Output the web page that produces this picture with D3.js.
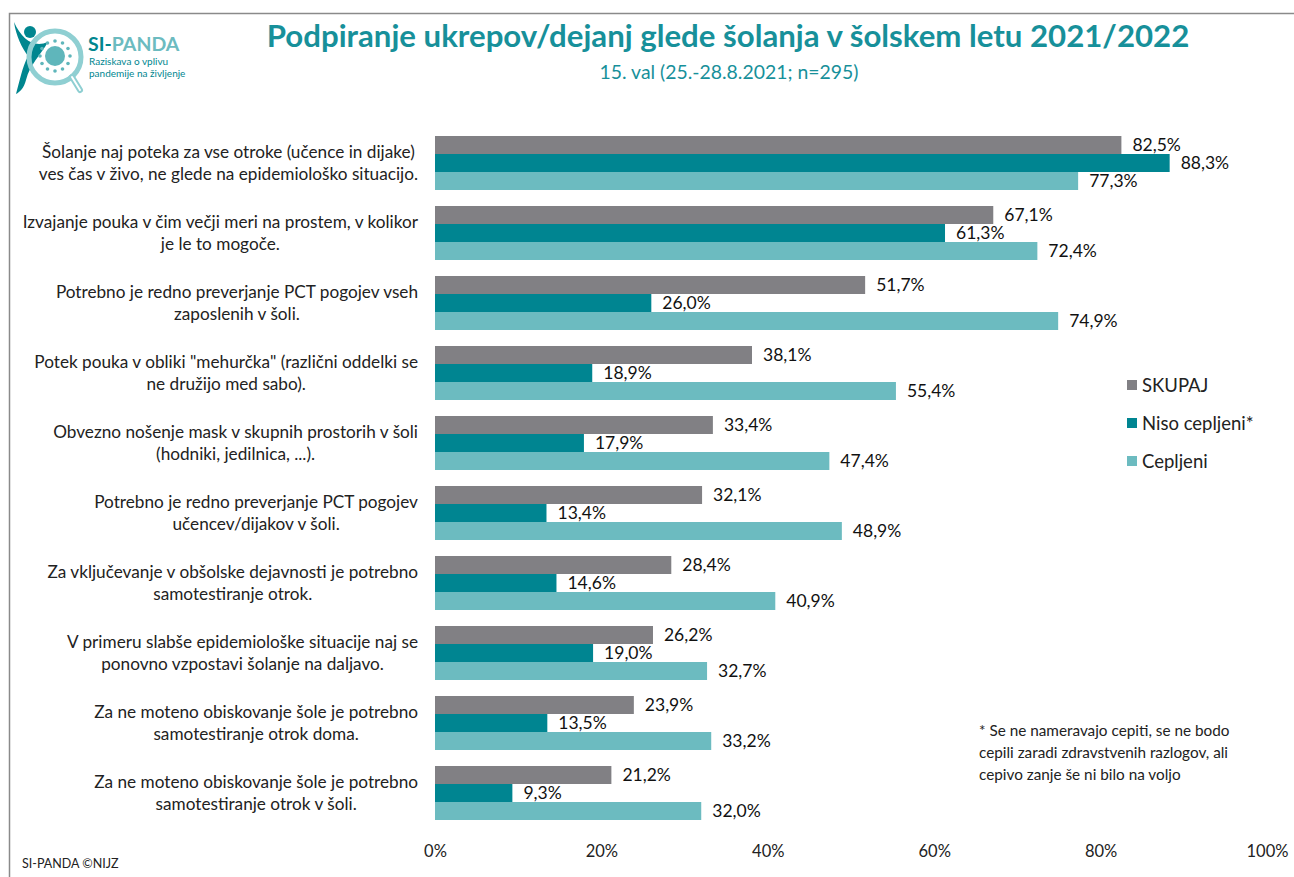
<!DOCTYPE html>
<html><head><meta charset="utf-8">
<script src="https://cdn.jsdelivr.net/npm/d3@7"></script>
<style>body{margin:0;background:#fff}svg{display:block;font-family:Lato,"Noto Sans",sans-serif}</style>
</head><body>
<svg id="c" width="1294" height="877"></svg>
<script>
const categories = [
  ["Šolanje naj poteka za vse otroke (učence in dijake)", "ves čas v živo, ne glede na epidemiološko situacijo."],
  ["Izvajanje pouka v čim večji meri na prostem, v kolikor", "je le to mogoče."],
  ["Potrebno je redno preverjanje PCT pogojev vseh", "zaposlenih v šoli."],
  ["Potek pouka v obliki \"mehurčka\" (različni oddelki se", "ne družijo med sabo)."],
  ["Obvezno nošenje mask v skupnih prostorih v šoli", "(hodniki, jedilnica, ...)."],
  ["Potrebno je redno preverjanje PCT pogojev", "učencev/dijakov v šoli."],
  ["Za vključevanje v obšolske dejavnosti je potrebno", "samotestiranje otrok."],
  ["V primeru slabše epidemiološke situacije naj se", "ponovno vzpostavi šolanje na daljavo."],
  ["Za ne moteno obiskovanje šole je potrebno", "samotestiranje otrok doma."],
  ["Za ne moteno obiskovanje šole je potrebno", "samotestiranje otrok v šoli."]
];
const seriesNames = ["SKUPAJ", "Niso cepljeni*", "Cepljeni"];
const skupaj   = [82.5, 67.1, 51.7, 38.1, 33.4, 32.1, 28.4, 26.2, 23.9, 21.2];
const nisoCep  = [88.3, 61.3, 26.0, 18.9, 17.9, 13.4, 14.6, 19.0, 13.5, 9.3];
const cepljeni = [77.3, 72.4, 74.9, 55.4, 47.4, 48.9, 40.9, 32.7, 33.2, 32.0];
const xTicks = [0, 20, 40, 60, 80, 100];
const colors = ["#818084", "#008591", "#6cbbc0"];
const titleText = "Podpiranje ukrepov/dejanj glede šolanja v šolskem letu 2021/2022";
const subtitleText = "15. val (25.-28.8.2021; n=295)";
const footnote = ["* Se ne nameravajo cepiti, se ne bodo", "cepili zaradi zdravstvenih razlogov, ali", "cepivo zanje še ni bilo na voljo"];

const series = [skupaj, nisoCep, cepljeni];
const svg = d3.select("#c");
const teal = "#17909a";

// frame
svg.append("path").attr("d","M9.5,877 V13.5 H1294").attr("fill","none").attr("stroke","#8a8a8a").attr("stroke-width",1.5);

// logo
const lg = svg.append("g");
lg.append("path").attr("d","M14,22 C22,40 34,48 48,42 C40,56 30,64 26,80 C24,88 20,92 16,94 C20,80 22,68 28,56 C22,48 16,36 14,22 Z").attr("fill","#00868f");
lg.append("circle").attr("cx",30).attr("cy",32).attr("r",6).attr("fill","#00868f");
lg.append("circle").attr("cx",55).attr("cy",57).attr("r",26).attr("fill","none").attr("stroke","#8fcfd2").attr("stroke-width",5);
lg.append("line").attr("x1",72).attr("y1",77).attr("x2",80).attr("y2",90).attr("stroke","#8fcfd2").attr("stroke-width",6).attr("stroke-linecap","round");
lg.append("line").attr("x1",72).attr("y1",77).attr("x2",80).attr("y2",90).attr("stroke","#fff").attr("stroke-width",2).attr("stroke-linecap","round");
lg.append("circle").attr("cx",55).attr("cy",56).attr("r",10).attr("fill","#5fb6bb");
for (let i=0;i<12;i++){const a=i*Math.PI/6;lg.append("circle").attr("cx",55+15*Math.cos(a)).attr("cy",56+15*Math.sin(a)).attr("r",1.8).attr("fill","#5fb6bb");}
const lt = lg.append("text").attr("x",88).attr("y",51).attr("font-size",19.5).attr("font-weight","bold");
lt.append("tspan").attr("fill","#00868f").text("SI-");
lt.append("tspan").attr("fill","#6cbbc0").text("PANDA");
lg.append("text").attr("x",89).attr("y",65).attr("font-size",10).attr("fill","#00868f").text("Raziskava o vplivu");
lg.append("text").attr("x",89).attr("y",77).attr("font-size",10).attr("fill","#00868f").text("pandemije na življenje");

// title
svg.append("text").attr("x",728).attr("y",47).attr("text-anchor","middle").attr("font-size",31.2).attr("font-weight","bold").attr("fill",teal).text(titleText);
svg.append("text").attr("x",729).attr("y",79).attr("text-anchor","middle").attr("font-size",19.4).attr("fill",teal).text(subtitleText);

// scales
const x = d3.scaleLinear().domain([0,100]).range([435,1267]);
const y = d3.scaleBand().domain(d3.range(categories.length)).range([128,828]).paddingInner(16/70).paddingOuter(8/70);
const yi = d3.scaleBand().domain(d3.range(3)).range([0,y.bandwidth()]);

// x axis
const xa = svg.append("g").attr("transform","translate(0,842)").call(d3.axisBottom(x).tickValues(xTicks).tickFormat(d=>d+"%").tickSize(0));
xa.select(".domain").remove();
xa.selectAll("text").attr("font-size",16.5).attr("fill","#222").attr("font-family","Lato,'Noto Sans',sans-serif");

// bars
const groups = svg.append("g").selectAll("g").data(categories).join("g").attr("transform",(d,i)=>`translate(0,${y(i)})`);
series.forEach((vals,s)=>{
  groups.append("rect").attr("x",x(0)).attr("y",yi(s)).attr("width",(d,i)=>x(vals[i])-x(0)).attr("height",yi.bandwidth()).attr("fill",colors[s]);
});
// value labels
series.forEach((vals,s)=>{
  groups.each(function(d,i){
    const g = d3.select(this);
    const xe = x(vals[i]);
    const t = g.append("text").attr("x",xe+11).attr("y",yi(s)+yi.bandwidth()/2).attr("dy","0.36em").attr("font-size",17.5).attr("fill","#111").text(vals[i].toFixed(1).replace(".",",")+"%");
    const w = t.node().getComputedTextLength();
    g.insert("rect", () => t.node()).attr("x",xe+1).attr("y",yi(s)).attr("width",w+16).attr("height",yi.bandwidth()).attr("fill","#fff");
  });
});

// category labels
groups.each(function(d,i){
  const g = d3.select(this);
  const cy = y.bandwidth()/2;
  const t = g.append("text").attr("text-anchor","middle").attr("font-size",17.2).attr("fill","#222");
  d.forEach((line,k)=>{
    t.append("tspan").attr("x",0).attr("y",cy + (k-0.5)*22).attr("dy","0.36em").text(line);
  });
  let maxW = 0;
  t.selectAll("tspan").each(function(){maxW=Math.max(maxW,this.getComputedTextLength());});
  t.selectAll("tspan").attr("x",418-maxW/2);
});

// legend
const leg = svg.append("g");
seriesNames.forEach((n,s)=>{
  const yy = 385 + s*38;
  leg.append("rect").attr("x",1127).attr("y",yy-5).attr("width",10).attr("height",10).attr("fill",colors[s]);
  leg.append("text").attr("x",1142).attr("y",yy).attr("dy","0.36em").attr("font-size",18.5).attr("fill","#222").text(n);
});

// footnote
footnote.forEach((l,k)=>{
  svg.append("text").attr("x",979).attr("y",736+k*22).attr("font-size",15.3).attr("fill","#222").text(l);
});
svg.append("text").attr("x",22).attr("y",868).attr("font-size",12.5).attr("fill","#222").text("SI-PANDA ©NIJZ");
</script>
</body></html>
